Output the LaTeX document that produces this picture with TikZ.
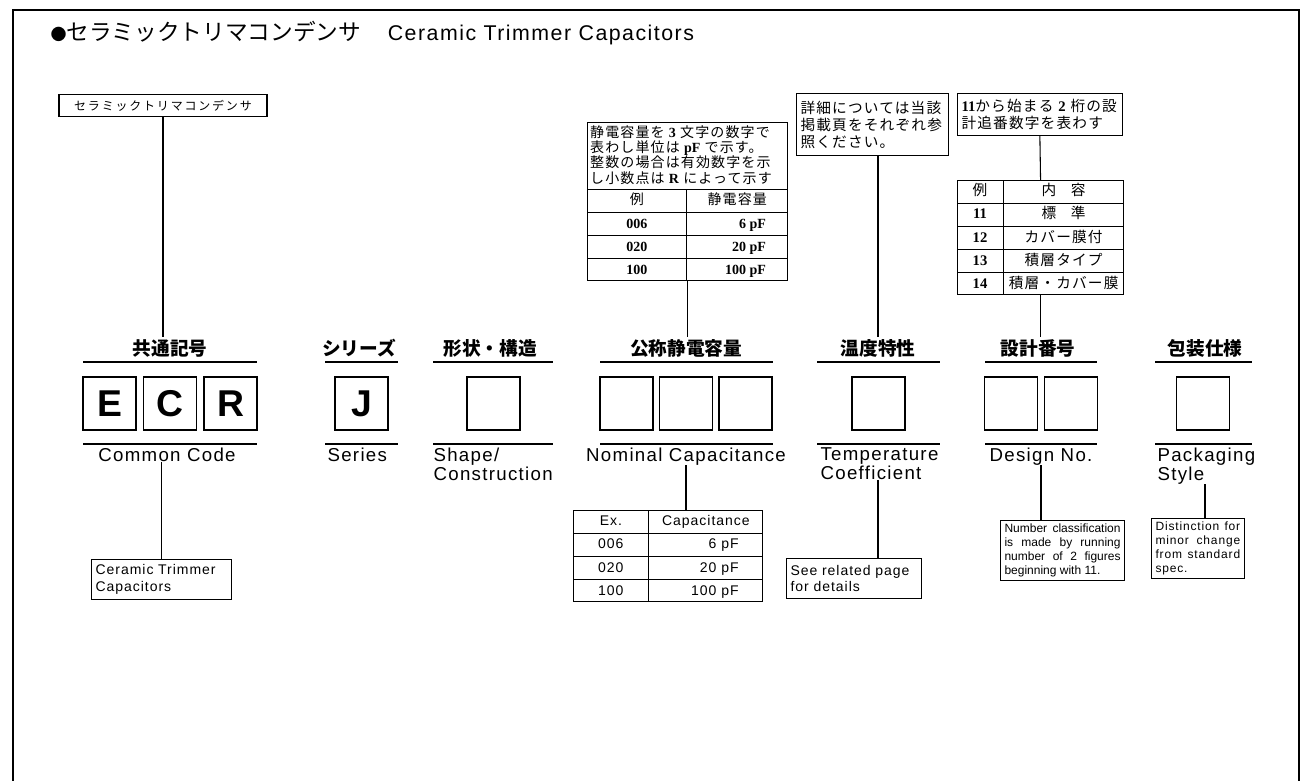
\documentclass[tikz,border=0pt]{standalone}
\usepackage{fontspec}
\usepackage{array}
\setmainfont{Liberation Serif}
\setsansfont{Liberation Sans}[LetterSpace=7]
\newfontfamily\cjk{Noto Sans CJK JP}
\newfontfamily\mincho{Noto Sans CJK JP}[LetterSpace=8]
\newcolumntype{C}[1]{>{\centering\arraybackslash}p{#1}}
\newcolumntype{Q}[1]{>{\raggedleft\arraybackslash}p{#1}}
\newcommand{\rs}{\rule[-5pt]{0pt}{16.5pt}}
\newcommand{\nb}[1]{{\rmfamily\bfseries #1}}
\setlength{\tabcolsep}{0pt}
\setlength{\arrayrulewidth}{0.8pt}
\begin{document}
\begin{tikzpicture}[x=0.75pt, y=-0.75pt, line width=0.8pt,
    hd/.style={font=\cjk\bfseries\fontsize{14}{16}\selectfont, inner sep=1pt},
    en/.style={font=\sffamily\fontsize{14}{14.25}\selectfont, inner sep=0pt, align=left},
    cell/.style={draw, minimum size=39.75pt, inner sep=0pt, font=\sffamily\bfseries\fontsize{28}{28}\selectfont},
    note/.style={draw, inner xsep=3pt, inner ysep=2.5pt, anchor=north west, align=left},
    jp/.style={note, font=\mincho\fontsize{11}{12.75}\selectfont},
    tab/.style={draw, inner sep=0pt, anchor=north west}]
    \useasboundingbox (0,0) rectangle (1302,781);
    \draw[line width=1.8pt] (13,781) -- (13,10) -- (1299,10) -- (1299,781);
    \node[anchor=west, inner sep=0pt] (title) at (50,33)
        {{\cjk\fontsize{12}{12}\selectfont ●}{\cjk\fontsize{17}{17}\selectfont セラミックトリマコンデンサ}\hspace{20pt}{\sffamily\fontsize{16}{16}\selectfont Ceramic Trimmer Capacitors}};

    \node[jp, anchor=center, minimum width=156pt, minimum height=17pt, font=\mincho\fontsize{9}{10}\selectfont\addfontfeatures{LetterSpace=15}] (sera) at (163,105.5) {セラミックトリマコンデンサ};
    \node[hd] (kyo) at (170,348) {共通記号};
    \draw (83,362) -- (257,362) (83,444) -- (257,444);
    \node[cell] (e) at (109.5,403.5) {E};
    \node[cell] (c) at (170,403.5) {C};
    \node[cell] (r) at (230.5,403.5) {R};
    \node[en, anchor=north] (cc) at (167,447) {Common Code};
    \node[note, font=\sffamily\fontsize{10.5}{12.5}\selectfont, text width=99pt, minimum height=30pt] (ctc) at (91,559) {Ceramic Trimmer\\Capacitors};
    \draw (sera.south) -- (sera.south |- kyo.north);
    \draw (ctc.north |- cc.south) -- (ctc.north);

    \node[hd] (ser) at (359,348) {シリーズ};
    \draw (325,362) -- (398,362) (325,444) -- (398,444);
    \node[cell] (j) at (361.5,403.5) {J};
    \node[en, anchor=north west] (srs) at (327,447) {Series};

    \node[hd] (kei) at (490,348) {形状・構造};
    \draw (433,362) -- (553,362) (433,444) -- (553,444);
    \node[cell] (shp) at (493.5,403.5) {};
    \node[en, anchor=north west] (shc) at (433,447) {Shape/\\Construction};

    \node[hd] (kos) at (686,348) {公称静電容量};
    \draw (600,362) -- (773,362) (600,444) -- (773,444);
    \node[cell] (n1) at (626.5,403.5) {};
    \node[cell] (n2) at (686,403.5) {};
    \node[cell] (n3) at (745.5,403.5) {};
    \node[en, anchor=north] (nc) at (686,447) {Nominal Capacitance};
    \node[tab, font=\mincho\fontsize{10.5}{11.5}\selectfont] (capjp) at (587,122) {\begin{tabular}{@{}C{74pt}|Q{59pt}@{\hspace{16pt}}}
        \multicolumn{2}{@{\hspace{2pt}}p{147pt}@{}}{\rule{0pt}{11pt}静電容量を \nb{3} 文字の数字で\newline 表わし単位は \nb{pF} で示す。\newline 整数の場合は有効数字を示\newline し小数点は \nb{R} によって示す\rule[-4pt]{0pt}{4pt}}\\\hline
        例 & \multicolumn{1}{C{75pt}@{}}{静電容量\rs}\\\hline
        \nb{006} & \nb{6 pF}\rs\\\hline
        \nb{020} & \nb{20 pF}\rs\\\hline
        \nb{100} & \nb{100 pF}\rs
    \end{tabular}};
    \node[tab, font=\sffamily\fontsize{10.5}{12}\selectfont] (capen) at (573,510) {\begin{tabular}{@{}C{56pt}|Q{67pt}@{\hspace{18pt}}}
        Ex. & \multicolumn{1}{C{85pt}@{}}{Capacitance\rs}\\\hline
        006 & 6 pF\rs\\\hline
        020 & 20 pF\rs\\\hline
        100 & 100 pF\rs
    \end{tabular}};
    \draw (capjp.south) -- (capjp.south |- kos.north);
    \draw (nc.south) -- (nc.south |- capen.north);

    \node[hd] (ond) at (878,348) {温度特性};
    \draw (817,362) -- (940,362) (817,444) -- (940,444);
    \node[cell] (tmp) at (878.5,403.5) {};
    \node[en, anchor=north west] (tc) at (820,447) {Temperature\\Coefficient};
    \node[jp, text width=108pt, minimum height=46.5pt] (shosai) at (796,93) {詳細については当該\\掲載頁をそれぞれ参\\照ください。};
    \node[note, font=\sffamily\fontsize{10.5}{12.5}\selectfont, text width=95pt, minimum height=30pt] (see) at (786,558) {See related page\\for details};
    \draw (ond.north |- shosai.south) -- (ond.north);
    \draw (ond.south |- tc.south) -- (ond.south |- see.north);

    \node[hd] (sek) at (1038,348) {設計番号};
    \draw (985,362) -- (1097,362) (985,444) -- (1097,444);
    \node[cell] (d1) at (1011,403.5) {};
    \node[cell] (d2) at (1071,403.5) {};
    \node[en, anchor=north] (dn) at (1041,447) {Design No.};
    \node[jp, text width=117.5pt, minimum height=31.5pt] (jyu) at (957,93) {\nb{11}から始まる \nb{2} 桁の設\\計追番数字を表わす};
    \node[tab, font=\mincho\fontsize{11}{12}\selectfont] (dtab) at (957,180) {\begin{tabular}{@{}C{33.75pt}|C{90pt}@{}}
        例 & 内\quad 容\rs\\\hline
        \nb{11} & 標\quad 準\rs\\\hline
        \nb{12} & カバー膜付\rs\\\hline
        \nb{13} & 積層タイプ\rs\\\hline
        \nb{14} & 積層・カバー膜\rs
    \end{tabular}};
    \node[note, font=\sffamily\fontsize{9}{10.5}\selectfont\addfontfeatures{LetterSpace=0}, text width=87pt, align=justify] (num) at (1000,520) {Number classification\linebreak is made by running\linebreak number of 2 figures\linebreak beginning with 11.};
    \draw (jyu.south) -- (dtab.north);
    \draw (dtab.south) -- (dtab.south |- sek.north);
    \draw (dn.south) -- (dn.south |- num.north);

    \node[hd] (hos) at (1205,348) {包装仕様};
    \draw (1155,362) -- (1252,362) (1155,444) -- (1252,444);
    \node[cell] (pk) at (1203,403.5) {};
    \node[en, anchor=north west] (pst) at (1157,447) {Packaging\\Style};
    \node[note, font=\sffamily\fontsize{9}{10.5}\selectfont, text width=63.5pt, align=justify] (dis) at (1151,518) {Distinction for\linebreak minor change\linebreak from standard\linebreak spec.};
    \draw (hos.south |- pst.south) -- (hos.south |- dis.north);
\end{tikzpicture}
\end{document}
